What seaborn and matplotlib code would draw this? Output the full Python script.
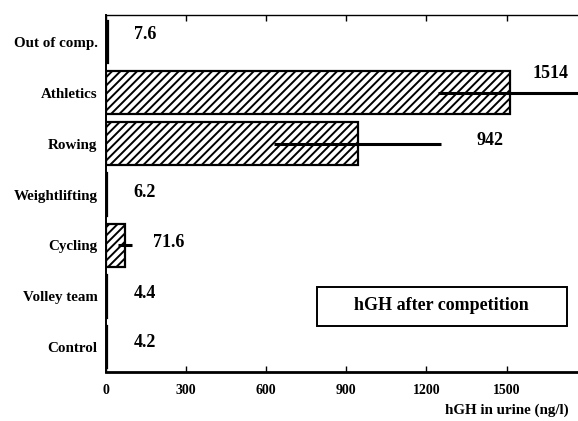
import matplotlib
matplotlib.use("Agg")
import matplotlib.pyplot as plt
from matplotlib.patches import Rectangle
import seaborn as sns
import pandas as pd

# Urinary hGH after competition, by group
groups = ["Out of comp.", "Athletics", "Rowing", "Weightlifting",
          "Cycling", "Volley team", "Control"]
hgh = [7.6, 1514, 942, 6.2, 71.6, 4.4, 4.2]
hgh_err = [0, 272, 312, 0, 26, 0, 0]
value_labels = ["7.6", "1514", "942", "6.2", "71.6", "4.4", "4.2"]
x_ticks = [0, 300, 600, 900, 1200, 1500]

df = pd.DataFrame({"group": groups, "hgh": hgh, "err": hgh_err})

sns.set_theme(style="white")
plt.rcParams["font.family"] = ["Liberation Serif", "DejaVu Serif"]
plt.rcParams["font.weight"] = "bold"
plt.rcParams["text.color"] = "black"
plt.rcParams["axes.labelcolor"] = "black"
plt.rcParams["hatch.linewidth"] = 1.4

fig = plt.figure(figsize=(5.78, 4.21), dpi=100)
ax = fig.add_axes([0.183, 0.1164, 0.83, 0.848])

sns.barplot(data=df, x="hgh", y="group", orient="h", order=groups,
            color="white", edgecolor="black", linewidth=1.6,
            width=0.84, errorbar=None, ax=ax)
for patch in ax.patches:
    patch.set_hatch("////")
    patch.set_facecolor("white")

# horizontal SD lines, no caps
ax.errorbar(df["hgh"], range(len(groups)), xerr=df["err"], fmt="none",
            ecolor="black", elinewidth=2.2, capsize=0, zorder=5, clip_on=False)

# value annotations (offset in points from the bar end)
offsets = [(19, 5), (16, 14), (86, 2), (19, 1.5), (20, 2), (19, 2), (19, 3.5)]
for i, (v, lab) in enumerate(zip(hgh, value_labels)):
    ax.annotate(lab, xy=(v, i), xytext=offsets[i], textcoords="offset points",
                ha="left", va="center", fontsize=13, fontweight="bold",
                color="black", annotation_clip=False)

ax.set_xlim(0, 1795)
ax.set_ylim(6.49, -0.53)
ax.set_xticks(x_ticks)
ax.set_xticklabels([str(t) for t in x_ticks], fontsize=10, fontweight="bold")
ax.set_yticks(range(len(groups)))
ax.set_yticklabels(groups, fontsize=10.8, fontweight="bold")
ax.tick_params(axis="x", direction="in", length=4, width=1, top=True,
               bottom=True, pad=9, colors="black")
ax.tick_params(axis="y", length=0, pad=6, colors="black")
ax.set_ylabel("")
ax.set_xlabel("hGH in urine (ng/l)", fontsize=10.8, fontweight="bold")
ax.xaxis.set_label_coords(0.965, -0.088)
ax.xaxis.label.set_horizontalalignment("right")

ax.spines["left"].set_linewidth(1.4)
ax.spines["bottom"].set_linewidth(2.0)
ax.spines["top"].set_linewidth(1.0)
for side in ["left", "bottom", "top"]:
    ax.spines[side].set_color("black")
ax.spines["right"].set_visible(False)

# caption box
ax.add_patch(Rectangle((0.44, 0.129), 0.521, 0.109, transform=ax.transAxes,
                       facecolor="white", edgecolor="black", linewidth=1.4,
                       zorder=6))
ax.text(0.7, 0.185, "hGH after competition", transform=ax.transAxes,
        fontsize=13, fontweight="bold", ha="center", va="center", zorder=7)

fig.savefig("out.png", dpi=100)
